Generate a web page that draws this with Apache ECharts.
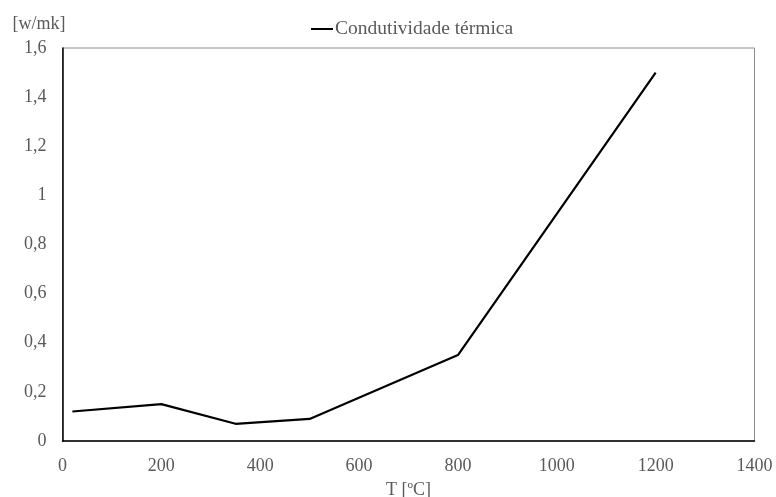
<!DOCTYPE html>
<html>
<head>
<meta charset="utf-8">
<script src="https://cdn.jsdelivr.net/npm/echarts@6/dist/echarts.min.js"></script>
<style>
  html, body { margin: 0; padding: 0; background: #fff; }
  #chart { width: 776px; height: 497px; }
</style>
</head>
<body>
<div id="chart"></div>
<script>
// Thermal conductivity versus temperature
const temperatures = [20, 200, 350, 500, 800, 1200];
const conductivity = [0.12, 0.15, 0.07, 0.09, 0.35, 1.5];
const seriesName = 'Condutividade térmica';
const xAxisName = 'T [ºC]';
const yAxisName = '[w/mk]';

const font = 'Liberation Serif, Times New Roman, serif';
const textGray = '#595959';

const chart = echarts.init(document.getElementById('chart'));
chart.setOption({
  animation: false,
  backgroundColor: '#fff',
  grid: {
    left: 62.5, right: 21.5, top: 48, bottom: 56,
    outerBoundsMode: 'none', containLabel: false,
    show: true, borderColor: '#8c8c8c', borderWidth: 1
  },
  legend: {
    top: 14, left: 306,
    data: [seriesName],
    itemWidth: 22, itemHeight: 2, itemGap: 0,
    icon: 'rect',
    textStyle: { fontFamily: font, fontSize: 19.5, color: textGray, padding: [0, 0, 0, -3] }
  },
  xAxis: {
    type: 'value',
    min: 0, max: 1400, interval: 200,
    name: xAxisName,
    nameLocation: 'middle',
    nameGap: 40,
    nameTextStyle: { fontFamily: font, fontSize: 18, color: textGray },
    axisLine: { show: true, lineStyle: { color: '#000', width: 1.5 } },
    axisTick: { show: false },
    splitLine: { show: false },
    axisLabel: {
      fontFamily: font, fontSize: 18, color: textGray, margin: 16,
      formatter: v => String(v)
    }
  },
  yAxis: {
    type: 'value',
    min: 0, max: 1.6, interval: 0.2,
    name: yAxisName,
    nameLocation: 'end',
    nameGap: 15,
    nameTextStyle: { fontFamily: font, fontSize: 18, color: textGray, align: 'right', padding: [0, -3, 0, 0] },
    axisLine: { show: true, lineStyle: { color: '#000', width: 1.5 } },
    axisTick: { show: false },
    splitLine: { show: false },
    axisLabel: {
      fontFamily: font, fontSize: 18, color: textGray, margin: 16,
      formatter: v => String(Math.round(v * 10) / 10).replace('.', ',')
    }
  },
  series: [{
    name: seriesName,
    type: 'line',
    data: temperatures.map((t, i) => [t, conductivity[i]]),
    symbol: 'none',
    lineStyle: { color: '#000', width: 2.2 },
    itemStyle: { color: '#000' }
  }]
});
</script>
</body>
</html>
